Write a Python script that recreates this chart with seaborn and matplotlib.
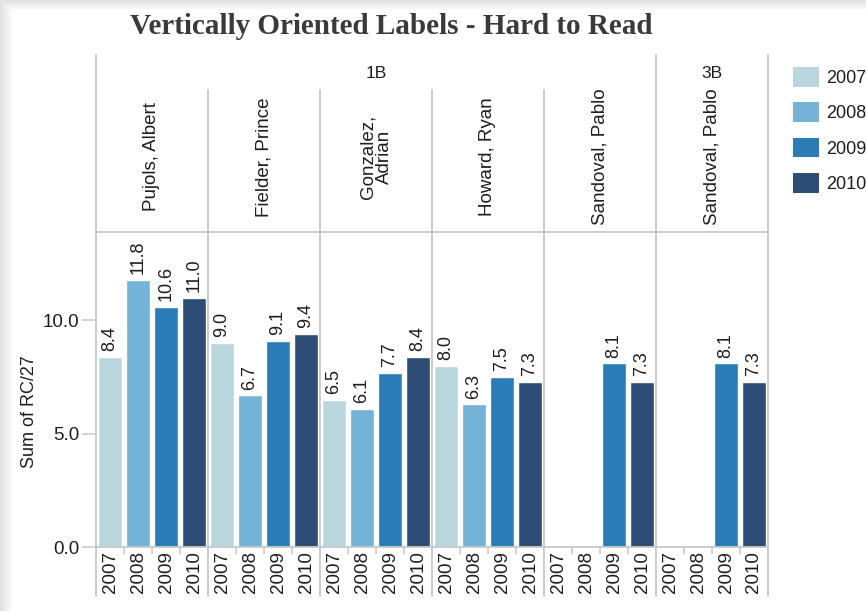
import numpy as np
import pandas as pd
import matplotlib
matplotlib.use("Agg")
import matplotlib.pyplot as plt
from matplotlib.patches import Patch
import seaborn as sns

sns.set_theme(style="white")
plt.rcParams['font.family'] = ['Liberation Sans', 'DejaVu Sans']

# data
years = ["2007", "2008", "2009", "2010"]
players = ["Pujols, Albert", "Fielder, Prince", "Gonzalez,\nAdrian",
           "Howard, Ryan", "Sandoval, Pablo", "Sandoval, Pablo"]
positions = ["1B", "1B", "1B", "1B", "1B", "3B"]
rc27 = [
    [8.4, 11.8, 10.6, 11.0],
    [9.0, 6.7, 9.1, 9.4],
    [6.5, 6.1, 7.7, 8.4],
    [8.0, 6.3, 7.5, 7.3],
    [np.nan, np.nan, 8.1, 7.3],
    [np.nan, np.nan, 8.1, 7.3],
]
palette = ["#bad7df", "#74b3d7", "#2a7bb6", "#2d4d75"]

rows = []
for i, (p, pos) in enumerate(zip(players, positions)):
    for y, v in zip(years, rc27[i]):
        rows.append({"panel": i, "player": p, "pos": pos, "year": y, "value": v})
df = pd.DataFrame(rows)

W, H = 866, 611
fig = plt.figure(figsize=(W / 100, H / 100), dpi=100)
fig.patch.set_facecolor("white")

# soft screenshot shadow on left / top edges
bg = fig.add_axes([0, 0, 1, 1], zorder=-10)
xx = np.arange(W)
yy = np.arange(H)
shade = np.minimum(np.clip(xx[None, :] / 13.0, 0, 1), np.clip(yy[:, None] / 11.0, 0, 1))
img = 1 - 0.12 * (1 - shade)
bg.imshow(img, cmap="gray", vmin=0, vmax=1, aspect="auto", extent=[0, W, H, 0])
bg.axis("off")

line_c = "#c8c8c8"
text_c = "#1e1e1e"
x0, x1 = 96, 768
ytop, ybot, yhead = 232, 547, 55
pw = (x1 - x0) / 6

def fx(px):
    return px / W

def fy(py):
    return 1 - py / H

axes = []
for i in range(6):
    ax = fig.add_axes([fx(x0 + i * pw), fy(ybot), pw / W, (ybot - ytop) / H],
                      sharey=axes[0] if axes else None)
    axes.append(ax)
    sub = df[df["panel"] == i]
    sns.barplot(data=sub, x="year", y="value", hue="year", order=years,
                hue_order=years, palette=palette, width=0.86, legend=False,
                saturation=1, ax=ax, errorbar=None)
    for cont in ax.containers:
        if len(cont) > 0:
            ax.bar_label(cont, fmt="%.1f", rotation=90, padding=4,
                         fontsize=13, color=text_c)
    ax.set_xlim(-0.5, 3.5)
    ax.set_ylim(0, 13.9)
    ax.set_xlabel("")
    ax.set_ylabel("")
    for s in ["top", "bottom", "left", "right"]:
        ax.spines[s].set_color(line_c)
        ax.spines[s].set_linewidth(1.3)
    ax.spines["right"].set_visible(i == 5)
    ax.set_xticks(range(4))
    ax.set_xticklabels(years, rotation=90, fontsize=13.5, color=text_c)
    ax.set_xticks([0.5, 1.5, 2.5], minor=True)
    ax.tick_params(axis="x", which="major", length=0, pad=3)
    ax.tick_params(axis="x", which="minor", bottom=True, length=5,
                   width=1.1, color=line_c)
    ax.plot([0, 0], [0, -0.155], transform=ax.transAxes, color=line_c,
            lw=1.3, clip_on=False)
    if i == 5:
        ax.plot([1, 1], [0, -0.155], transform=ax.transAxes, color=line_c,
                lw=1.3, clip_on=False)
    if i == 0:
        ax.set_yticks([0, 5, 10])
        ax.set_yticklabels(["0.0", "5.0", "10.0"], fontsize=13.5, color=text_c)
        ax.tick_params(axis="y", left=True, length=10, width=1.1,
                       color=line_c, pad=2)
        ax.set_ylabel("Sum of RC/27", fontsize=13, color=text_c)
        ax.yaxis.set_label_coords((38 - x0) / pw, (ybot - 412) / (ybot - ytop))
    else:
        ax.tick_params(axis="y", left=False, labelleft=False)

# header with position / player rows
hd = fig.add_axes([fx(x0), fy(ytop), (x1 - x0) / W, (ytop - yhead) / H])
hd.set_xlim(0, 6)
hd.set_ylim(0, 1)
hd.axis("off")
name_top = (ytop - 90) / (ytop - yhead)
for k in range(7):
    top = 1 if k in (0, 5, 6) else name_top
    hd.plot([k, k], [0, top], color=line_c, lw=1.3, clip_on=False)
for i, p in enumerate(players):
    hd.text(i + 0.5, (ytop - 157) / (ytop - yhead), p, rotation=90,
            ha="center", va="center", fontsize=13.5, color=text_c,
            multialignment="center", linespacing=0.95)
pos_names = list(dict.fromkeys(positions))
for pos in pos_names:
    idx = [i for i, q in enumerate(positions) if q == pos]
    hd.text((idx[0] + idx[-1] + 1) / 2, (ytop - 73) / (ytop - yhead), pos,
            ha="center", va="center", fontsize=12.5, color=text_c)

fig.text(fx(391), fy(26), "Vertically Oriented Labels - Hard to Read",
         ha="center", va="center", fontsize=21, fontweight="bold",
         color="#3a3a3a", family=["Liberation Serif", "DejaVu Serif"])

handles = [Patch(facecolor=c, edgecolor="none") for c in palette]
fig.legend(handles, years, loc="upper left",
           bbox_to_anchor=(fx(786), fy(60)), frameon=False, fontsize=13,
           handlelength=1.4, handleheight=1.3, handletextpad=0.4,
           labelspacing=0.85, borderaxespad=0, labelcolor=text_c)

fig.savefig("out.png", dpi=100)
